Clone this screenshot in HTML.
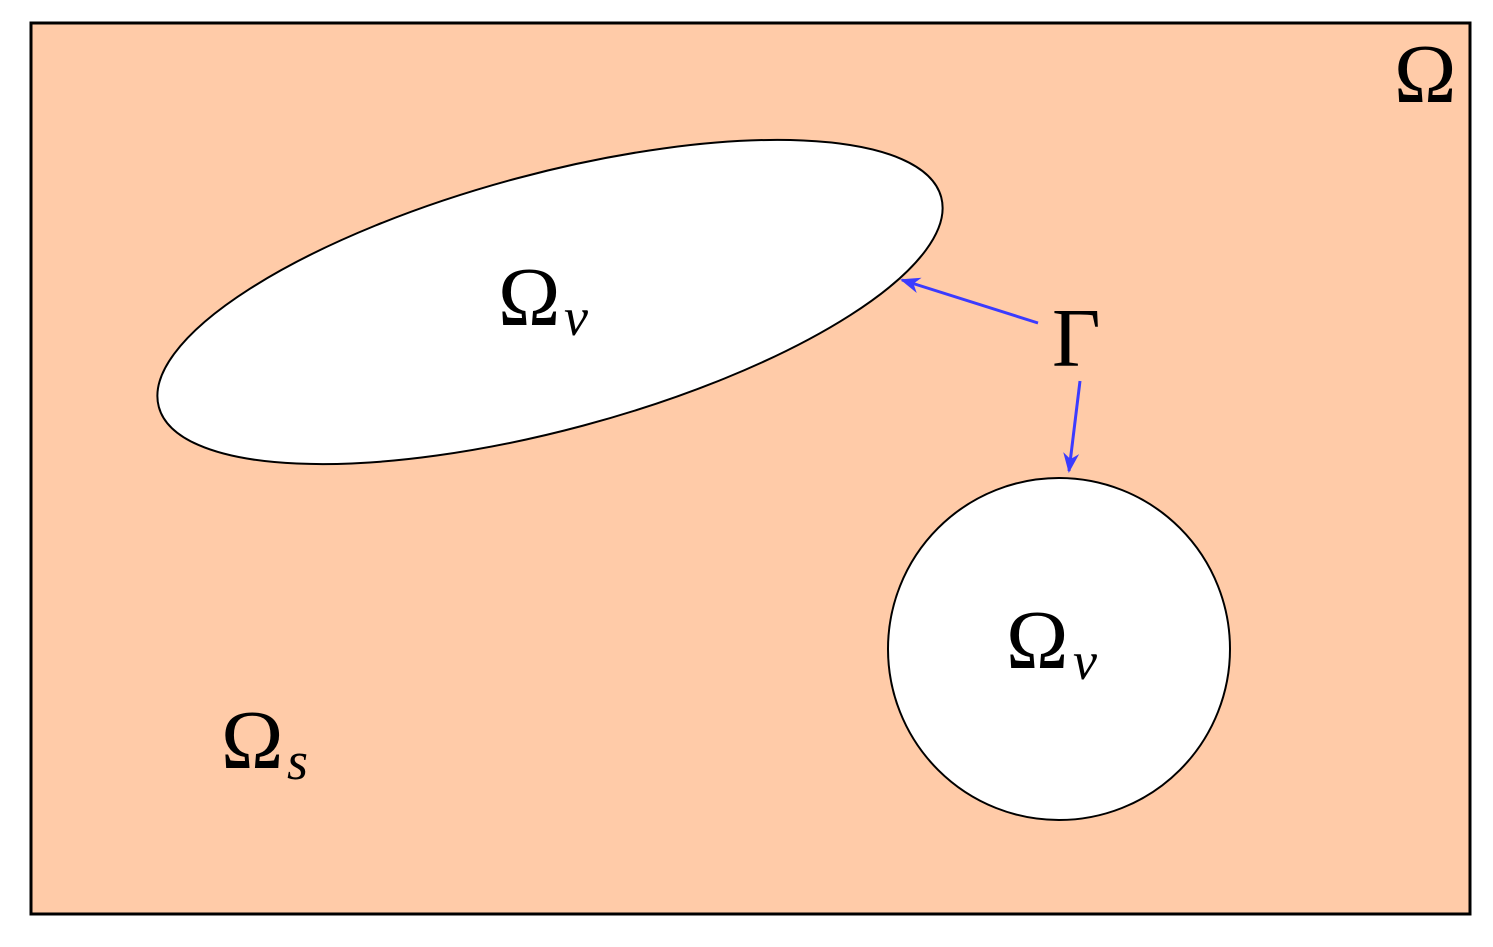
<!DOCTYPE html>
<html><head><meta charset="utf-8"><style>
html,body{margin:0;padding:0;background:#fff;}
svg{display:block;}
text{font-family:"Liberation Serif","DejaVu Serif",serif;fill:#000;}
</style></head><body>
<svg width="1493" height="947" viewBox="0 0 1493 947" xmlns="http://www.w3.org/2000/svg">
<defs>
<marker id="ah" markerWidth="22" markerHeight="22" refX="18" refY="8" orient="auto" markerUnits="userSpaceOnUse" viewBox="0 0 22 16">
<path d="M0,0 L20,8 L0,16 L6,8 z" fill="#3b3bff"/>
</marker>
</defs>
<rect x="31" y="23" width="1439" height="891" fill="#ffcba8" stroke="#000" stroke-width="3"/>
<ellipse cx="550" cy="302" rx="405" ry="128" transform="rotate(-15 550 302)" fill="#fff" stroke="#000" stroke-width="2"/>
<circle cx="1059" cy="649" r="171" fill="#fff" stroke="#000" stroke-width="2"/>
<line x1="1038" y1="323" x2="902" y2="280" stroke="#3b3bff" stroke-width="3" marker-end="url(#ah)"/>
<line x1="1080" y1="381" x2="1069" y2="471" stroke="#3b3bff" stroke-width="3" marker-end="url(#ah)"/>
<text x="1394" y="102" font-size="84">Ω</text>
<text x="498" y="325" font-size="84">Ω</text><text x="564" y="335" font-size="54" font-style="italic">v</text>
<text x="1052" y="366" font-size="84">Γ</text>
<text x="1006" y="668" font-size="84">Ω</text><text x="1073" y="679" font-size="54" font-style="italic">v</text>
<text x="221" y="768" font-size="84">Ω</text><text x="287" y="779" font-size="54" font-style="italic">s</text>
</svg>
</body></html>
